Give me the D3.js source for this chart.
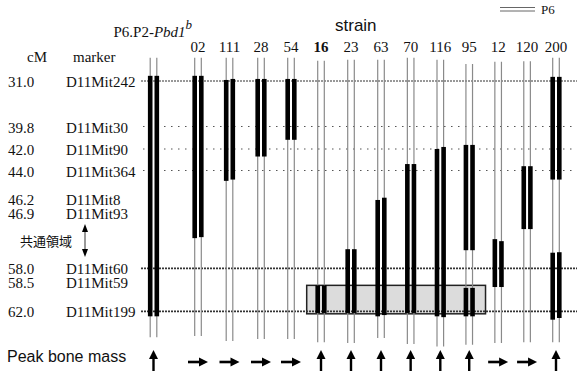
<!DOCTYPE html>
<html>
<head>
<meta charset="utf-8">
<script src="https://cdn.jsdelivr.net/npm/d3@7"></script>
<style>
  body { margin: 0; background: #fff; }
  svg { display: block; }
  .serif { font-family: "Liberation Serif", "DejaVu Serif", serif; }
  .sans { font-family: "Liberation Sans", Arial, sans-serif; }
</style>
</head>
<body>
<svg id="chart" width="579" height="374"></svg>
<script>
// markers (cM position, name, style of the guide line)
const markerCM = [31.0, 39.8, 42.0, 44.0, 46.2, 46.9, 58.0, 58.5, 62.0];
const markerNames = ['D11Mit242', 'D11Mit30', 'D11Mit90', 'D11Mit364', 'D11Mit8', 'D11Mit93', 'D11Mit60', 'D11Mit59', 'D11Mit199'];
const markerLine = ['fine', 'dot', 'dot', 'dot', '', '', 'heavy', '', 'heavy'];

// strains
const strains = ['P6.P2', '02', '111', '28', '54', '16', '23', '63', '70', '116', '95', '12', '120', '200'];
const boldStrains = ['16'];

// P6 blocks per strain: [leftFrom, leftTo, rightFrom, rightTo] in cM
const blocks = [
  [[30.0, 62.6, 30.0, 62.6]],
  [[30.0, 52.0, 30.0, 51.8]],
  [[30.8, 44.8, 30.6, 44.7]],
  [[30.6, 42.7, 30.6, 42.7]],
  [[30.6, 41.1, 30.6, 41.1]],
  [[58.9, 62.2, 58.9, 62.2]],
  [[54.2, 62.2, 54.2, 62.2]],
  [[46.25, 62.6, 46.1, 62.45]],
  [[43.4, 62.2, 43.4, 62.2]],
  [[42.0, 62.6, 41.8, 62.7]],
  [[41.6, 54.4, 41.6, 54.4], [59.2, 62.6, 59.2, 62.6]],
  [[52.2, 59.1, 52.6, 59.1]],
  [[43.6, 50.2, 43.6, 50.2]],
  [[30.2, 44.7, 30.2, 44.7], [54.9, 63.0, 54.8, 62.8]]
];

// extent of the thin chromosome lines (cM)
const lineTop = [26.5, 26.5, 26.5, 26.5, 26.5, 27.1, 26.9, 26.9, 26.5, 26.9, 27.7, 27.3, 27.2, 26.5];
const lineBottom = [65.1, 64.95, 65.55, 65.3, 65.3, 65.7, 65.8, 65.2, 65.9, 66.2, 66.0, 65.8, 65.7, 65.7];

// peak bone mass phenotype
const peak = ['up', 'right', 'right', 'right', 'right', 'up', 'up', 'up', 'up', 'up', 'up', 'right', 'right', 'up'];

// shaded common region
const boxStrains = ['16', '95'];
const boxCM = [58.9, 62.3];

const svg = d3.select('#chart');

// map layout is not linear in cM, so use a piecewise scale
const y = d3.scaleLinear()
  .domain(markerCM)
  .range([81, 126.5, 149, 170.5, 199, 212.5, 268.3, 282, 311.3]);

const x = d3.scaleLinear()
  .domain([0, 1, 3, 7, 9, 13])
  .range([153.5, 198, 261, 381, 440.3, 556]);

const half = 3.3;
const lineX0 = 141, lineX1 = 577;

// shaded box
const bi0 = strains.indexOf(boxStrains[0]);
const bi1 = strains.indexOf(boxStrains[1]);
svg.append('rect')
  .attr('x', x(bi0) - half - 11)
  .attr('y', y(boxCM[0]))
  .attr('width', (x(bi1) + half + 13) - (x(bi0) - half - 11))
  .attr('height', y(boxCM[1]) - y(boxCM[0]))
  .attr('fill', '#dcdcdc')
  .attr('stroke', '#222')
  .attr('stroke-width', 1.5);

// marker guide lines
const lineStyles = {
  fine: { dash: '2,1', width: 1, color: '#333' },
  dot: { dash: '1.5,5.5', width: 1.2, color: '#555' },
  heavy: { dash: '2,1', width: 1.8, color: '#333' }
};
markerCM.forEach((cm, i) => {
  const st = lineStyles[markerLine[i]];
  if (!st) return;
  svg.append('line')
    .attr('x1', markerLine[i] === 'dot' ? lineX0 + 2 : lineX0)
    .attr('x2', lineX1)
    .attr('y1', y(cm))
    .attr('y2', y(cm))
    .attr('stroke', st.color)
    .attr('stroke-width', st.width)
    .attr('stroke-dasharray', st.dash);
});

// marker labels
const labels = svg.append('g').attr('class', 'serif').style('font-size', '15px').attr('fill', '#111');
markerCM.forEach((cm, i) => {
  labels.append('text').attr('x', 8).attr('y', y(cm) + 6).text(cm.toFixed(1));
  labels.append('text').attr('x', 66).attr('y', y(cm) + 6).text(markerNames[i]);
});
labels.append('text').attr('x', 27).attr('y', 62).text('cM');
labels.append('text').attr('x', 73).attr('y', 62).text('marker');

// title above the parental strain
const title = svg.append('text')
  .attr('class', 'serif')
  .attr('x', x(0) - 40)
  .attr('y', 37)
  .style('font-size', '15px')
  .attr('fill', '#111');
title.append('tspan').text('P6.P2-');
title.append('tspan').style('font-style', 'italic').text('Pbd1');
title.append('tspan').style('font-style', 'italic').attr('dy', -8).style('font-size', '13px').text('b');

svg.append('text')
  .attr('class', 'sans')
  .attr('x', 335)
  .attr('y', 31)
  .style('font-size', '17px')
  .attr('fill', '#111')
  .text('strain');

// strain labels
svg.append('g').attr('class', 'serif')
  .selectAll('text')
  .data(strains.slice(1))
  .join('text')
  .attr('x', (d, i) => x(i + 1))
  .attr('y', 52)
  .attr('text-anchor', 'middle')
  .style('font-size', '15px')
  .style('font-weight', d => boldStrains.includes(d) ? 'bold' : 'normal')
  .attr('fill', '#111')
  .text(d => d);

// thin chromosome lines
const chrom = svg.append('g');
strains.forEach((s, i) => {
  [-half, half].forEach(off => {
    chrom.append('line')
      .attr('x1', x(i) + off).attr('x2', x(i) + off)
      .attr('y1', y(lineTop[i])).attr('y2', y(lineBottom[i]))
      .attr('stroke', '#8a8a8a')
      .attr('stroke-width', 1.2);
  });
});

// P6 segments
const bars = svg.append('g');
blocks.forEach((list, i) => {
  list.forEach(b => {
    [[-half, b[0], b[1]], [half, b[2], b[3]]].forEach(([off, a, c]) => {
      bars.append('rect')
        .attr('x', x(i) + off - 2.3)
        .attr('y', y(a))
        .attr('width', 4.6)
        .attr('height', y(c) - y(a))
        .attr('fill', '#000');
    });
  });
});

// legend
svg.append('line').attr('x1', 500).attr('x2', 535).attr('y1', 7.5).attr('y2', 7.5).attr('stroke', '#666');
svg.append('line').attr('x1', 500).attr('x2', 535).attr('y1', 11).attr('y2', 11).attr('stroke', '#666');
svg.append('text').attr('class', 'serif').attr('x', 541).attr('y', 14)
  .style('font-size', '13px').attr('fill', '#111').text('P6');

// common region note
svg.append('text')
  .attr('x', 20)
  .attr('y', 246)
  .style('font-family', '"Noto Sans CJK JP", sans-serif')
  .style('font-size', '13px')
  .attr('fill', '#111')
  .text('共通領域');
const ax = 85, ay0 = 224, ay1 = 257;
svg.append('line').attr('x1', ax).attr('x2', ax).attr('y1', ay0 + 6).attr('y2', ay1 - 6)
  .attr('stroke', '#777').attr('stroke-width', 1.5);
svg.append('path').attr('d', `M${ax},${ay0} L${ax - 3},${ay0 + 8} L${ax + 3},${ay0 + 8} Z`).attr('fill', '#000');
svg.append('path').attr('d', `M${ax},${ay1} L${ax - 3},${ay1 - 8} L${ax + 3},${ay1 - 8} Z`).attr('fill', '#000');

// peak bone mass arrows
svg.append('text')
  .attr('class', 'sans')
  .attr('x', 7)
  .attr('y', 362)
  .style('font-size', '16px')
  .attr('fill', '#111')
  .text('Peak bone mass');

const arrows = svg.append('g');
peak.forEach((p, i) => {
  const cx = x(i);
  if (p === 'up') {
    arrows.append('line').attr('x1', cx).attr('x2', cx).attr('y1', 358).attr('y2', 371)
      .attr('stroke', '#000').attr('stroke-width', 2.4);
    arrows.append('path').attr('d', `M${cx},350 L${cx - 4.5},359 L${cx + 4.5},359 Z`).attr('fill', '#000');
  } else {
    arrows.append('line').attr('x1', cx - 10).attr('x2', cx + 2).attr('y1', 362).attr('y2', 362)
      .attr('stroke', '#000').attr('stroke-width', 2.6);
    arrows.append('path').attr('d', `M${cx + 10},362 L${cx + 1},357.5 L${cx + 1},366.5 Z`).attr('fill', '#000');
  }
});
</script>
</body>
</html>
